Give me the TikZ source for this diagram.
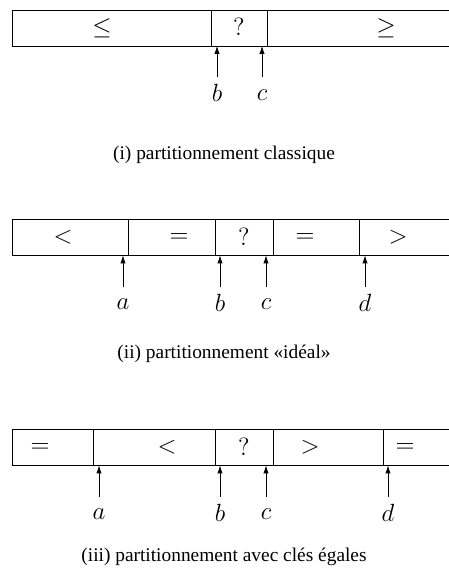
\documentclass[tikz,border=0pt]{standalone}
\usepackage{fontspec}
\setmainfont{Liberation Serif}
\usetikzlibrary{arrows.meta}
\tikzset{
  boxline/.style={line width=0.4pt},
  arr/.style={line width=0.4pt,-{Latex[length=4.5pt,width=3pt]}},
  sym/.style={inner sep=0pt,font=\fontsize{13.5}{16}\selectfont},
  lbl/.style={inner sep=0pt,font=\fontsize{13.5}{16}\selectfont},
  capt/.style={inner sep=0pt,font=\fontsize{11.2}{13}\selectfont}
}
\begin{document}
\begin{tikzpicture}[x=0.578pt,y=-0.578pt]
\useasboundingbox (0,0) rectangle (449,583);
\clip (0,0) rectangle (449,583);
% ---------- (i)
\draw[boxline] (12,10) rectangle (470,46);
\draw[boxline] (211,10) -- (211,46) (267,10) -- (267,46);
\node[sym] (s11) at (102,28) {$\leq$};
\node[sym] (s12) at (239,27) {$?$};
\node[sym] (s13) at (386,28) {$\geq$};
\coordinate (b1t) at (217,46); \coordinate (b1s) at (217,77);
\coordinate (c1t) at (262,46); \coordinate (c1s) at (262,77);
\draw[arr] (b1s) -- (b1t);
\draw[arr] (c1s) -- (c1t);
\node[lbl] (b1) at (217,93) {$b$};
\node[lbl] (c1) at (262,95) {$c$};
\node[capt] (cap1) at (224,155) {(i) partitionnement classique};
% ---------- (ii)
\draw[boxline] (12,219.5) rectangle (470,255.5);
\draw[boxline] (128,219.5) -- (128,255.5) (215,219.5) -- (215,255.5)
  (273,219.5) -- (273,255.5) (359,219.5) -- (359,255.5);
\node[sym] (s21) at (63,237.5) {$<$};
\node[sym] (s22) at (179,237.5) {$=$};
\node[sym] (s23) at (244,236.5) {$?$};
\node[sym] (s24) at (305,237.5) {$=$};
\node[sym] (s25) at (398,237.5) {$>$};
\coordinate (a2t) at (123,255.5); \coordinate (a2s) at (123,287);
\coordinate (b2t) at (220,255.5); \coordinate (b2s) at (220,287);
\coordinate (c2t) at (266,255.5); \coordinate (c2s) at (266,287);
\coordinate (d2t) at (365,255.5); \coordinate (d2s) at (365,287);
\draw[arr] (a2s) -- (a2t);
\draw[arr] (b2s) -- (b2t);
\draw[arr] (c2s) -- (c2t);
\draw[arr] (d2s) -- (d2t);
\node[lbl] (a2) at (123,304.5) {$a$};
\node[lbl] (b2) at (220,302.5) {$b$};
\node[lbl] (c2) at (266,304.5) {$c$};
\node[lbl] (d2) at (365,302.5) {$d$};
\node[capt] (cap2) at (224,354) {(ii) partitionnement «idéal»};
% ---------- (iii)
\draw[boxline] (12,429.5) rectangle (470,465.5);
\draw[boxline] (93,429.5) -- (93,465.5) (215,429.5) -- (215,465.5)
  (273,429.5) -- (273,465.5) (383,429.5) -- (383,465.5);
\node[sym] (s31) at (40,447.5) {$=$};
\node[sym] (s32) at (167,447.5) {$<$};
\node[sym] (s33) at (244,446.5) {$?$};
\node[sym] (s34) at (310,447.5) {$>$};
\node[sym] (s35) at (405,447.5) {$=$};
\coordinate (a3t) at (99,465.5); \coordinate (a3s) at (99,497);
\coordinate (b3t) at (220,465.5); \coordinate (b3s) at (220,497);
\coordinate (c3t) at (266,465.5); \coordinate (c3s) at (266,497);
\coordinate (d3t) at (388,465.5); \coordinate (d3s) at (388,497);
\draw[arr] (a3s) -- (a3t);
\draw[arr] (b3s) -- (b3t);
\draw[arr] (c3s) -- (c3t);
\draw[arr] (d3s) -- (d3t);
\node[lbl] (a3) at (99,514.5) {$a$};
\node[lbl] (b3) at (220,512.5) {$b$};
\node[lbl] (c3) at (266,514.5) {$c$};
\node[lbl] (d3) at (388,512.5) {$d$};
\node[capt] (cap3) at (224,557) {(iii) partitionnement avec clés égales};
\end{tikzpicture}
\end{document}
